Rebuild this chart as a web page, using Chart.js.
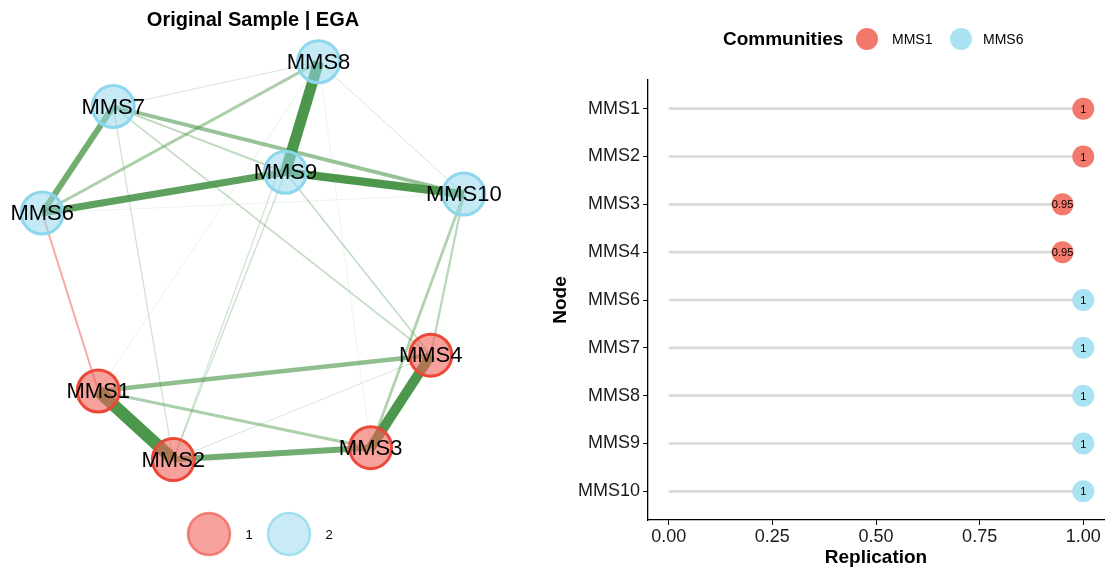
<!DOCTYPE html>
<html>
<head>
<meta charset="utf-8">
<script src="https://cdn.jsdelivr.net/npm/chart.js@4.4.1/dist/chart.umd.min.js"></script>
<style>
  html, body { margin: 0; padding: 0; background: #ffffff; }
  #wrap { position: relative; width: 1107px; height: 569px; overflow: hidden; }
  #left { position: absolute; left: 0; top: 0; width: 506px; height: 569px; }
  #right { position: absolute; left: 540px; top: 0; width: 567px; height: 569px; }
</style>
</head>
<body>
<div id="wrap">
  <div id="left"><canvas id="net"></canvas></div>
  <div id="right"><canvas id="rep"></canvas></div>
</div>
<script>
// ---------- Network (left) data ----------
const nodeNames = ['MMS1','MMS2','MMS3','MMS4','MMS6','MMS7','MMS8','MMS9','MMS10'];
const nodeCommunity = [1,1,1,1,2,2,2,2,2];
const nodeX = [-0.734,-0.378, 0.558, 0.843,-1.000,-0.663, 0.311, 0.154, 1.000];
const nodeY = [-0.655,-1.000,-0.940,-0.475, 0.240, 0.775, 1.000, 0.445, 0.335];
// edges (by node name) and partial-correlation weights
const edgeFrom = ['MMS1','MMS8','MMS3','MMS9','MMS6','MMS6','MMS2','MMS7','MMS1','MMS1','MMS6','MMS7','MMS10','MMS10','MMS7','MMS9','MMS9','MMS8','MMS7','MMS7','MMS8','MMS6','MMS2','MMS8','MMS8','MMS6'];
const edgeTo   = ['MMS2','MMS9','MMS4','MMS10','MMS9','MMS7','MMS3','MMS10','MMS4','MMS3','MMS8','MMS9','MMS3','MMS4','MMS4','MMS4','MMS2','MMS2','MMS2','MMS8','MMS10','MMS1','MMS4','MMS1','MMS3','MMS10'];
const edgeWeight = [0.50,0.44,0.40,0.33,0.28,0.24,0.24,0.16,0.18,0.12,0.12,0.08,0.11,0.09,0.07,0.07,0.055,0.05,0.05,0.04,0.04,-0.08,0.04,0.025,0.02,0.02];

// ---------- Replication (right) data ----------
const repNodes = ['MMS1','MMS2','MMS3','MMS4','MMS6','MMS7','MMS8','MMS9','MMS10'];
const repValues = [1, 1, 0.95, 0.95, 1, 1, 1, 1, 1];
const repCommunity = ['MMS1','MMS1','MMS1','MMS1','MMS6','MMS6','MMS6','MMS6','MMS6'];
const repValueLabels = ['1','1','0.95','0.95','1','1','1','1','1'];
const xTickValues = [0, 0.25, 0.5, 0.75, 1];
const xTickLabels = ['0.00','0.25','0.50','0.75','1.00'];
const legendCommunities = ['MMS1','MMS6'];
const legendNetwork = ['1','2'];

const FONT = '"Liberation Sans", Arial, Helvetica, sans-serif';
Chart.defaults.font.family = FONT;
Chart.defaults.color = '#000';

// ---------- Left: network ----------
const idx = n => nodeNames.indexOf(n);
const edgeDatasets = edgeFrom.map((f, i) => {
  const a = idx(f), b = idx(edgeTo[i]);
  const w = edgeWeight[i];
  const aw = Math.abs(w);
  const alpha = Math.min(0.9, 0.12 + aw * 2.5);
  const color = w >= 0 ? `rgba(58,140,58,${alpha})` : `rgba(240,90,90,${Math.min(0.9, alpha + 0.2)})`;
  return {
    type: 'line',
    data: [{x: nodeX[a], y: nodeY[a]}, {x: nodeX[b], y: nodeY[b]}],
    borderColor: color,
    borderWidth: Math.max(0.6, aw * 25),
    pointRadius: 0,
    showLine: true,
    fill: false,
    order: 10 + (1 - aw)
  };
});
const nodeFill = {1: 'rgba(240,98,88,0.6)', 2: 'rgba(150,215,236,0.55)'};
const nodeBorder = {1: 'rgba(236,72,56,1)', 2: 'rgba(140,214,238,1)'};
const nodeDataset = {
  type: 'scatter',
  data: nodeNames.map((n, i) => ({x: nodeX[i], y: nodeY[i]})),
  backgroundColor: nodeCommunity.map(c => nodeFill[c]),
  borderColor: nodeCommunity.map(c => nodeBorder[c]),
  borderWidth: 3,
  pointRadius: 21,
  pointHoverRadius: 21,
  order: 0
};

const netLabels = {
  id: 'netLabels',
  afterDatasetsDraw(chart) {
    const ctx = chart.ctx;
    const meta = chart.getDatasetMeta(chart.data.datasets.length - 1);
    ctx.save();
    ctx.font = `22px ${FONT}`;
    ctx.fillStyle = '#000';
    ctx.textAlign = 'center';
    ctx.textBaseline = 'middle';
    meta.data.forEach((el, i) => ctx.fillText(nodeNames[i], el.x, el.y + 1));
    ctx.restore();
  },
  afterDraw(chart) {
    const ctx = chart.ctx;
    ctx.save();
    const items = [
      {fill: 'rgba(240,98,88,0.6)', stroke: 'rgba(236,90,76,0.7)'},
      {fill: 'rgba(150,215,236,0.5)', stroke: 'rgba(140,214,238,0.75)'}
    ];
    const cy = 534, startX = 209, step = 80;
    items.forEach((it, i) => {
      const cx = startX + i * step;
      ctx.beginPath();
      ctx.arc(cx, cy, 21, 0, Math.PI * 2);
      ctx.fillStyle = it.fill; ctx.fill();
      ctx.lineWidth = 2.5; ctx.strokeStyle = it.stroke; ctx.stroke();
      ctx.fillStyle = '#000';
      ctx.font = `13px ${FONT}`;
      ctx.textAlign = 'center'; ctx.textBaseline = 'middle';
      ctx.fillText(legendNetwork[i], cx + 40, cy + 1);
    });
    ctx.restore();
  }
};

new Chart(document.getElementById('net'), {
  type: 'scatter',
  data: { datasets: [...edgeDatasets, nodeDataset] },
  options: {
    responsive: true, maintainAspectRatio: false, animation: false,
    layout: { padding: 0, autoPadding: false },
    scales: {
      x: { display: false, min: -1.2, max: 1.2 },
      y: { display: false, min: -1.55, max: 1.15 }
    },
    plugins: {
      legend: { display: false },
      tooltip: { enabled: false },
      title: {
        display: true, text: 'Original Sample | EGA',
        font: { size: 20, weight: 'bold', family: FONT, lineHeight: 1.2 },
        color: '#000', padding: { top: 8, bottom: 0 }
      }
    },
    clip: false
  },
  plugins: [netLabels]
});

// ---------- Right: replication lollipop ----------
const commColor = {MMS1: 'rgba(241,106,92,0.9)', MMS6: 'rgba(164,224,240,0.95)'};

const repPlugin = {
  id: 'repPlugin',
  afterDatasetsDraw(chart) {
    const ctx = chart.ctx;
    const meta = chart.getDatasetMeta(1);
    ctx.save();
    ctx.font = `11px ${FONT}`;
    ctx.fillStyle = '#000';
    ctx.textAlign = 'center';
    ctx.textBaseline = 'middle';
    meta.data.forEach((el, i) => ctx.fillText(repValueLabels[i], el.x, el.y + 1));
    ctx.restore();
  },
  afterDraw(chart) {
    const ctx = chart.ctx;
    ctx.save();
    const y = 39;
    ctx.textBaseline = 'middle';
    ctx.textAlign = 'left';
    ctx.fillStyle = '#000';
    ctx.font = `bold 19px ${FONT}`;
    ctx.fillText('Communities', 183, y + 1);
    const pos = [{c: 327, t: 352}, {c: 421, t: 443}];
    legendCommunities.forEach((name, i) => {
      ctx.beginPath();
      ctx.arc(pos[i].c, y, 11, 0, Math.PI * 2);
      ctx.fillStyle = commColor[name];
      ctx.fill();
      ctx.fillStyle = '#000';
      ctx.font = `14px ${FONT}`;
      ctx.fillText(name, pos[i].t, y + 1);
    });
    ctx.restore();
  }
};

new Chart(document.getElementById('rep'), {
  type: 'bar',
  data: {
    datasets: [
      {
        type: 'bar',
        indexAxis: 'y',
        data: repValues.map((v, i) => ({y: i, x: [0, v]})),
        backgroundColor: '#d9d9d9',
        borderWidth: 0,
        barThickness: 2,
        order: 2
      },
      {
        type: 'scatter',
        data: repValues.map((v, i) => ({x: v, y: i})),
        backgroundColor: repCommunity.map(c => commColor[c]),
        borderWidth: 0,
        pointRadius: 11,
        pointHoverRadius: 11,
        order: 1
      }
    ]
  },
  options: {
    responsive: true, maintainAspectRatio: false, animation: false,
    indexAxis: 'y',
    layout: { padding: { top: 80, right: 3, left: 0, bottom: 0 }, autoPadding: false },
    scales: {
      x: {
        type: 'linear', position: 'bottom', min: -0.05, max: 1.05, offset: false,
        afterBuildTicks(scale) { scale.ticks = xTickValues.map(v => ({value: v})); },
        afterFit(scale) { scale.height = 49; scale.paddingLeft = 0; scale.paddingRight = 0; },
        ticks: {
          callback(v) { const k = xTickValues.indexOf(v); return k >= 0 ? xTickLabels[k] : ''; },
          font: { size: 18, family: FONT }, color: '#1a1a1a', padding: 1, maxRotation: 0
        },
        grid: { display: true, offset: false, drawOnChartArea: false, drawTicks: true, tickLength: 5, color: '#000', lineWidth: 1 },
        border: { display: true, color: '#000', width: 1.3 },
        title: { display: true, text: 'Replication', font: { size: 19, weight: 'bold', family: FONT, lineHeight: 1.2 }, color: '#000', padding: { top: 0, bottom: 0 } }
      },
      y: {
        type: 'linear', position: 'left', min: -0.6, max: 8.6, reverse: true, offset: false,
        afterBuildTicks(scale) { scale.ticks = repNodes.map((n, i) => ({value: i})); },
        afterFit(scale) { scale.width = 108; scale.paddingTop = 0; scale.paddingBottom = 0; },
        ticks: {
          callback(v) { return repNodes[v] !== undefined ? repNodes[v] : ''; },
          font: { size: 18, family: FONT }, color: '#1a1a1a', padding: 3
        },
        grid: { display: true, offset: false, drawOnChartArea: false, drawTicks: true, tickLength: 5, color: '#000', lineWidth: 1 },
        border: { display: true, color: '#000', width: 1.3 },
        title: { display: true, text: 'Node', font: { size: 19, weight: 'bold', family: FONT, lineHeight: 1.2 }, color: '#000', padding: { top: 9, bottom: 0 } }
      }
    },
    plugins: {
      legend: { display: false },
      tooltip: { enabled: false },
      title: { display: false }
    }
  },
  plugins: [repPlugin]
});
</script>
</body>
</html>
